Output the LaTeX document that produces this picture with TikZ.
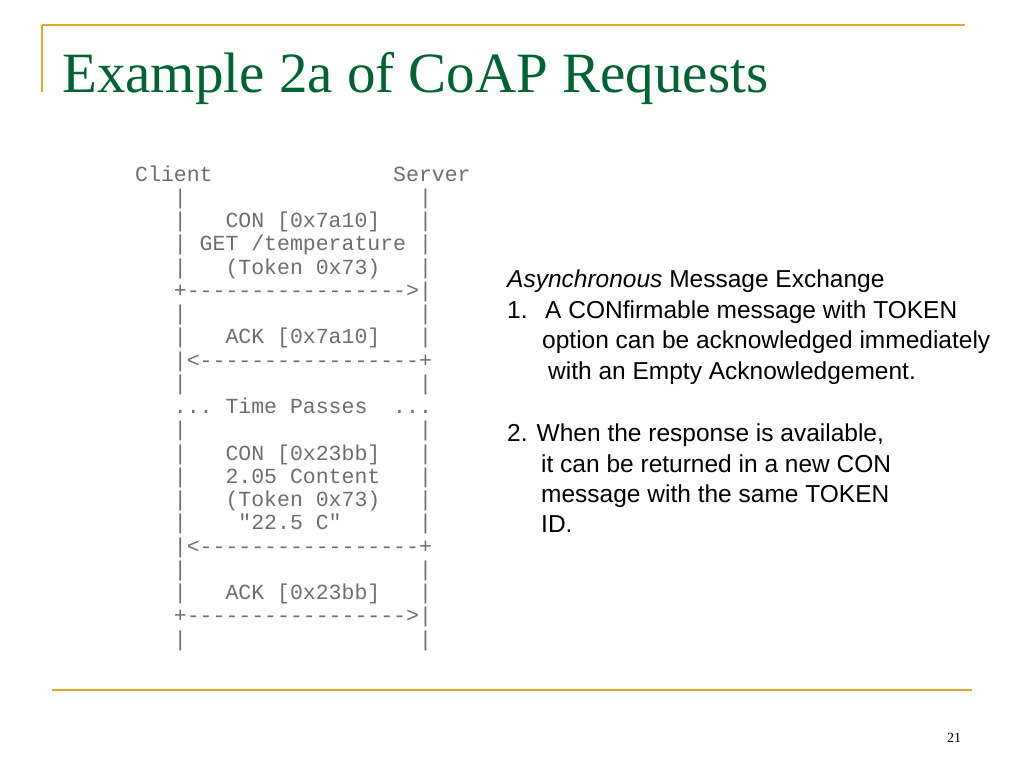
\documentclass[tikz,border=0pt]{standalone}
\usepackage{fontspec}
\setmainfont{Liberation Serif}
\setsansfont{Liberation Sans}
\setmonofont{Liberation Mono}
\definecolor{rulegold}{RGB}{218,170,40}
\definecolor{titlegreen}{RGB}{0,100,50}
\definecolor{asciigray}{RGB}{110,110,110}
% one cell of the ascii chart: column, row, text
\newcommand{\cell}[3]{\node[ascii] at ({135+#1*12.9},{181+#2*23.25}) {#3};}
\newcommand{\bars}[1]{\cell{3}{#1}{|}\cell{22}{#1}{|}}
\begin{document}
\begin{tikzpicture}[x=1pt,y=-1pt,
    ascii/.style={anchor=base west,inner sep=0pt,text=asciigray,font=\ttfamily\fontsize{21.5}{22}\selectfont},
    note/.style={anchor=base west,inner sep=0pt,font=\sffamily\fontsize{24.5}{26}\selectfont}]
  \useasboundingbox (0,0) rectangle (1024,768);
  \fill[white] (0,0) rectangle (1024,768);
  % frame rules
  \draw[rulegold,line width=2pt] (42,25) -- (965,25);
  \draw[rulegold,line width=2pt] (42,25) -- (42,92);
  \draw[rulegold,line width=2pt] (52,690) -- (972,690);
  \node[anchor=base west,inner sep=0pt,text=titlegreen,font=\fontsize{57}{60}\selectfont] (title) at (62,92) {Example 2a of CoAP Requests};
  \node[anchor=base,inner sep=0pt,font=\fontsize{14}{16}\selectfont] (page) at (954,742) {21};
  % message chart
  \cell{0}{0}{Client}\cell{20}{0}{Server}
  \bars{1}
  \bars{2}\cell{7}{2}{CON [0x7a10]}
  \bars{3}\cell{5}{3}{GET /temperature}
  \bars{4}\cell{7}{4}{(Token 0x73)}
  \cell{3}{5}{+----------------->|}
  \bars{6}
  \bars{7}\cell{7}{7}{ACK [0x7a10]}
  \cell{3}{8}{|<-----------------+}
  \bars{9}
  \cell{3}{10}{...}\cell{7}{10}{Time Passes}\cell{20}{10}{...}
  \bars{11}
  \bars{12}\cell{7}{12}{CON [0x23bb]}
  \bars{13}\cell{7}{13}{2.05 Content}
  \bars{14}\cell{7}{14}{(Token 0x73)}
  \bars{15}\cell{8}{15}{"22.5 C"}
  \cell{3}{16}{|<-----------------+}
  \bars{17}
  \bars{18}\cell{7}{18}{ACK [0x23bb]}
  \cell{3}{19}{+----------------->|}
  \bars{20}
  % notes
  \node[note] (n0) at (507,287) {\textit{Asynchronous} Message Exchange};
  \node[note] (n1) at (507,318) {1.};
  \node[note] (n1a) at (545,318) {A CONfirmable message with TOKEN};
  \node[note] (n1b) at (542,348) {option can be acknowledged immediately};
  \node[note] (n1c) at (548,379) {with an Empty Acknowledgement.};
  \node[note] (n2) at (507,441) {2. When the response is available,};
  \node[note] (n2a) at (541,472) {it can be returned in a new CON};
  \node[note] (n2b) at (541,502) {message with the same TOKEN};
  \node[note] (n2c) at (541,532) {ID.};
\end{tikzpicture}
\end{document}
